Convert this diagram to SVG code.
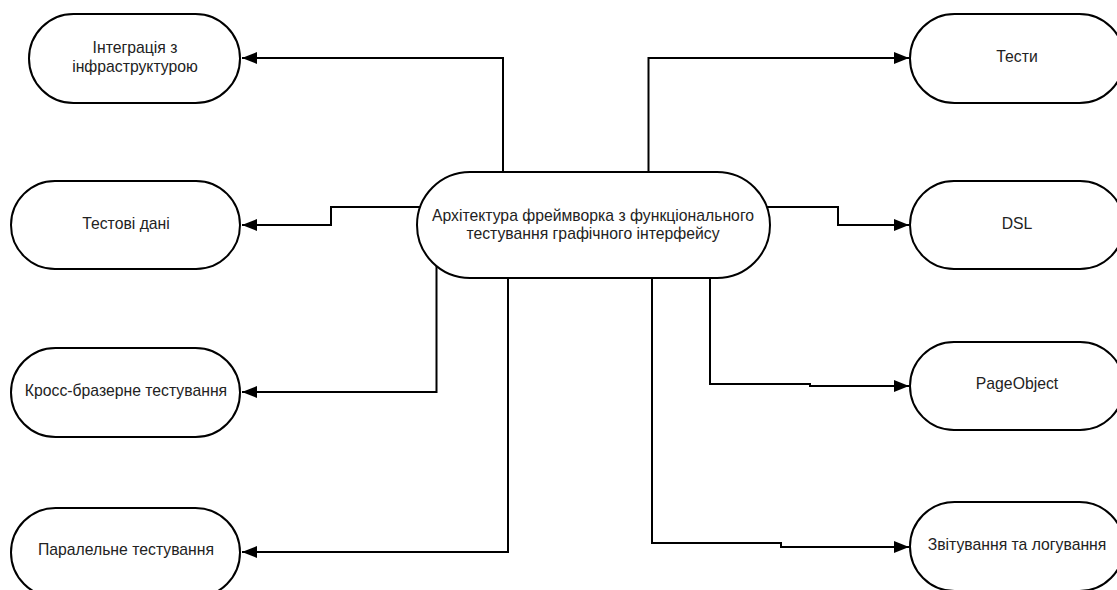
<svg xmlns="http://www.w3.org/2000/svg" width="1117" height="590" viewBox="0 0 1117 590">
<style>
.n{fill:#fff;stroke:#000;stroke-width:2}
.t{font-family:"Liberation Sans",Arial,sans-serif;font-size:15.75px;fill:#222;text-anchor:middle}
.c{fill:none;stroke:#000;stroke-width:2}
</style>
<defs>
<marker id="ah" markerUnits="userSpaceOnUse" markerWidth="16" markerHeight="12" refX="15" refY="6" orient="auto">
<path d="M0,0 L15,6 L0,12 z" fill="#000"/>
</marker>
</defs>
<rect width="1117" height="590" fill="#fff"/>
<g id="connectors">
<path class="c" marker-end="url(#ah)" d="M503,172 V58 H242"/>
<path class="c" marker-end="url(#ah)" d="M420,207 H331 V225 H242"/>
<path class="c" marker-end="url(#ah)" d="M436.5,266 V392 H242"/>
<path class="c" marker-end="url(#ah)" d="M508,278 V552 H242"/>
<path class="c" marker-end="url(#ah)" d="M648.5,172 V58 H909"/>
<path class="c" marker-end="url(#ah)" d="M767,207 H838 V225 H909"/>
<path class="c" marker-end="url(#ah)" d="M710,278 V384 H810 V386 H909"/>
<path class="c" marker-end="url(#ah)" d="M652,278 V543 H781 V547 H909"/>
</g>
<g id="center">
<rect class="n" x="417" y="172" width="353" height="106" rx="53" ry="53"/>
<text class="t" x="593" y="220.5">Архітектура фреймворка з функціонального</text>
<text class="t" x="593" y="239">тестування графічного інтерфейсу</text>
</g>
<g id="integration">
<rect class="n" x="29" y="14" width="211" height="89" rx="44.5" ry="44.5"/>
<text class="t" x="135" y="52.5">Інтеграція з</text>
<text class="t" x="135" y="71.5">інфраструктурою</text>
</g>
<g id="testdata">
<rect class="n" x="11" y="181" width="229" height="88" rx="44" ry="44"/>
<text class="t" x="126" y="228.5">Тестові дані</text>
</g>
<g id="crossbrowser">
<rect class="n" x="11" y="348" width="229" height="89" rx="44.5" ry="44.5"/>
<text class="t" x="126" y="395.5">Кросс-бразерне тестування</text>
</g>
<g id="parallel">
<rect class="n" x="11" y="508" width="229" height="89" rx="44.5" ry="44.5"/>
<text class="t" x="126" y="554.5">Паралельне тестування</text>
</g>
<g id="tests">
<rect class="n" x="910" y="14" width="214" height="89" rx="44.5" ry="44.5"/>
<text class="t" x="1017" y="61.5">Тести</text>
</g>
<g id="dsl">
<rect class="n" x="910" y="181" width="214" height="88" rx="44" ry="44"/>
<text class="t" x="1017" y="228.5">DSL</text>
</g>
<g id="pageobject">
<rect class="n" x="910" y="342" width="214" height="88" rx="44" ry="44"/>
<text class="t" x="1017" y="388.5">PageObject</text>
</g>
<g id="reporting">
<rect class="n" x="910" y="502" width="214" height="89" rx="44.5" ry="44.5"/>
<text class="t" x="1017" y="549.5">Звітування та логування</text>
</g>
</svg>
